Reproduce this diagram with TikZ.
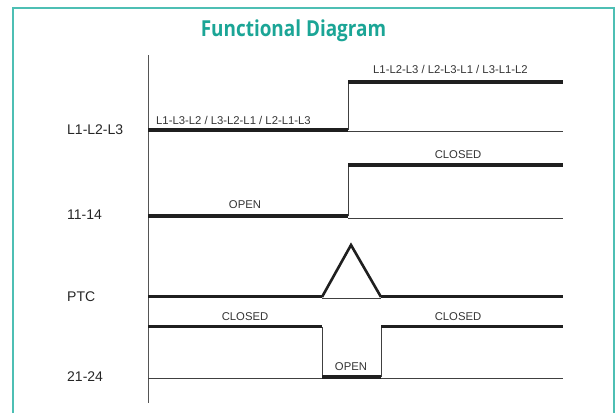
\documentclass[tikz,border=0pt]{standalone}
\usepackage{fontspec}
\setmainfont{Liberation Sans}
\newfontfamily\titlefont[FakeStretch=0.86]{Open Sans}
\definecolor{frameteal}{HTML}{4DBFB4}
\definecolor{titleteal}{HTML}{1BA596}
\definecolor{axisgray}{HTML}{555555}
\begin{document}
\begin{tikzpicture}[x=1pt,y=-1pt,
  thinline/.style={line width=0.9pt,draw=black!75},
  thickline/.style={line width=3.2pt,draw=black!88},
  sig/.style={font=\fontsize{11.3}{13}\selectfont,inner sep=0pt,text=black!80},
  rowlabel/.style={font=\fontsize{14}{16}\selectfont,inner sep=0pt,anchor=west,text=black!85},
  frameline/.style={line width=1.6pt,draw=frameteal}]
\useasboundingbox (0,0) rectangle (616,413);
% frame
\draw[frameline] (13,413) -- (13,8) -- (614,8) -- (614,413);
\node[font=\titlefont\bfseries\fontsize{22}{26}\selectfont,text=titleteal,inner sep=0pt,anchor=base] (title) at (293.5,36.5) {Functional Diagram};
% axis
\draw[line width=0.9pt,draw=axisgray] (148,55) -- (148,403);
% row labels
\node[rowlabel] (lab1) at (67,130) {L1-L2-L3};
\node[rowlabel] (lab2) at (67,215) {11-14};
\node[rowlabel] (lab3) at (67,297) {PTC};
\node[rowlabel] (lab4) at (67,377) {21-24};
% row 1
\draw[thinline] (348,131.5) -- (563,131.5);
\draw[thinline] (348,130) -- (348,82);
\draw[thickline] (148,130) -- (348,130);
\draw[thickline] (348,82) -- (563,82);
\node[sig,anchor=west] (t1a) at (156,120) {L1-L3-L2 / L3-L2-L1 / L2-L1-L3};
\node[sig,anchor=west] (t1b) at (373,69) {L1-L2-L3 / L2-L3-L1 / L3-L1-L2};
% row 2
\draw[thinline] (348,218) -- (563,218);
\draw[thinline] (348,216) -- (348,165);
\draw[thickline] (148,216) -- (348,216);
\draw[thickline] (348,165) -- (563,165);
\node[sig] (t2a) at (245,205) {OPEN};
\node[sig] (t2b) at (458,155) {CLOSED};
% row 3 (PTC)
\draw[thinline] (322,298) -- (381,298);
\draw[thickline] (148,296.5) -- (322,296.5);
\draw[thickline] (381,296.5) -- (563,296.5);
\draw[line width=2.6pt,draw=black!88,line join=miter] (322,297) -- (351,245) -- (381,297);
% row 4
\draw[thinline] (148,378) -- (563,378);
\draw[thinline] (322,327) -- (322,377) (381,377) -- (381,327);
\draw[thickline] (148,326.5) -- (322,326.5);
\draw[thickline] (322,377) -- (381,377);
\draw[thickline] (381,326.5) -- (563,326.5);
\node[sig] (t4a) at (245,317) {CLOSED};
\node[sig] (t4b) at (458,317) {CLOSED};
\node[sig] (t4c) at (351,367) {OPEN};
\end{tikzpicture}
\end{document}
